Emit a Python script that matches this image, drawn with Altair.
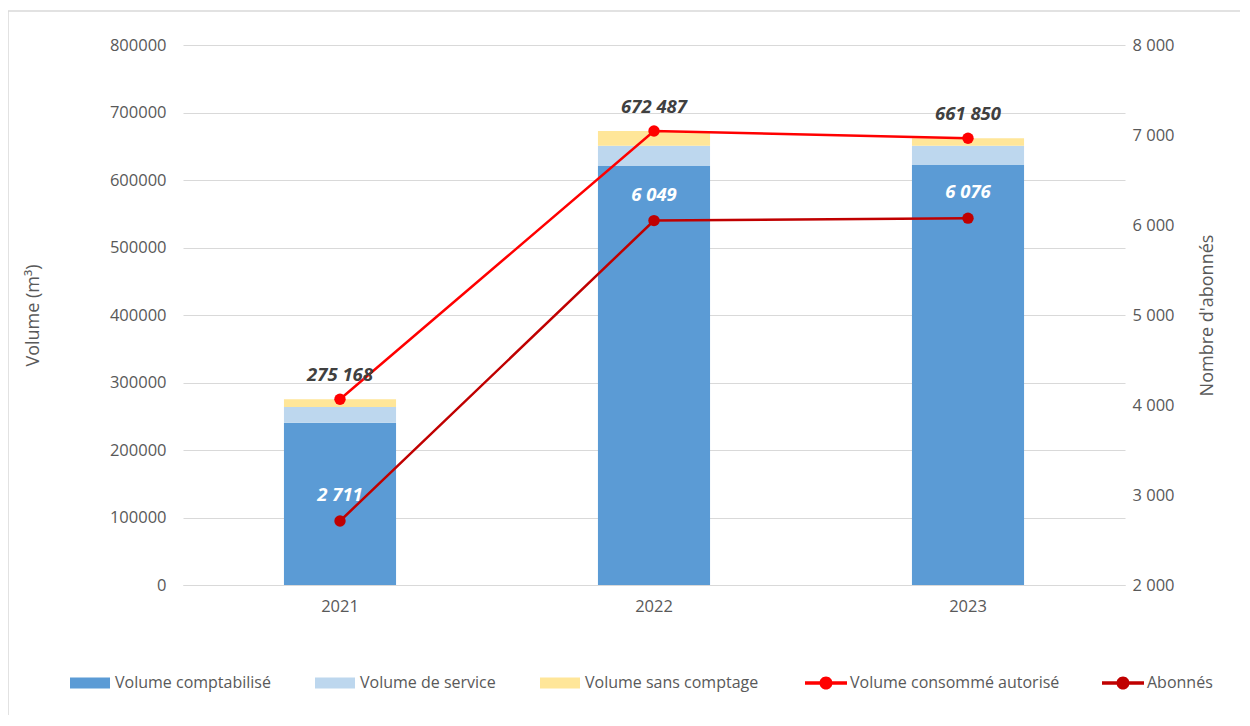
import altair as alt
import pandas as pd

FONT = "Open Sans"

years = ["2021", "2022", "2023"]
bar_series = ["Volume comptabilisé", "Volume de service", "Volume sans comptage"]
bar_colors = ["#5B9BD5", "#BDD7EE", "#FFE699"]
vol_comptabilise = [240400, 620700, 622200]
vol_service = [23300, 30100, 28600]
vol_sans_comptage = [11468, 21687, 11050]

line_series = ["Volume consommé autorisé", "Abonnés"]
line_colors = ["#FF0000", "#C00000"]
vol_consomme = [275168, 672487, 661850]
vol_labels = ["275 168", "672 487", "661 850"]
abonnes = [2711, 6049, 6076]
abo_labels = ["2 711", "6 049", "6 076"]

left_ticks = [0, 100000, 200000, 300000, 400000, 500000, 600000, 700000, 800000]
right_ticks = [2000, 3000, 4000, 5000, 6000, 7000, 8000]

rows = []
for i, y in enumerate(years):
    for j, (s, vals) in enumerate(zip(bar_series, [vol_comptabilise, vol_service, vol_sans_comptage])):
        rows.append({"year": y, "serie": s, "value": vals[i], "order": j})
bars_df = pd.DataFrame(rows)

vol_df = pd.DataFrame({"year": years, "value": vol_consomme, "label": vol_labels,
                       "serie": [line_series[0]] * 3})
abo_df = pd.DataFrame({"year": years, "value": abonnes, "label": abo_labels,
                       "serie": [line_series[1]] * 3})

GRAY_TXT = "#595959"
AX_FS = 16.5
LEG_FS = 16
TITLE_FS = 18
VAL_FS = 18.5

x_enc = alt.X("year:N", scale=alt.Scale(domain=years, paddingInner=0.643, paddingOuter=0.3215),
              axis=alt.Axis(title=None, labelAngle=0, ticks=False, domain=True, domainColor="#D9D9D9",
                            labelFontSize=AX_FS, labelColor=GRAY_TXT, labelPadding=13, grid=False,
                            labelFont=FONT))

left_axis = alt.Axis(values=left_ticks, format="d", title="Volume (m³)", ticks=False, domain=False,
                     grid=True, gridColor="#D9D9D9", gridWidth=1, labelPadding=17, labelFontSize=AX_FS,
                     labelColor=GRAY_TXT, labelFont=FONT, titleFont=FONT, titleFontSize=TITLE_FS,
                     titleColor=GRAY_TXT, titleFontWeight="normal", titleX=-150, titleY=270,
                     titleBaseline="middle", titleAngle=270)
left_scale = alt.Scale(domain=[0, 800000], nice=False)

right_axis = alt.Axis(values=right_ticks, labelExpr="replace(format(datum.value, ','), ',', ' ')",
                      orient="right", grid=False, ticks=False, domain=False, labelPadding=7,
                      labelFontSize=AX_FS, labelColor=GRAY_TXT, labelFont=FONT,
                      title="Nombre d'abonnés", titleFont=FONT, titleFontSize=TITLE_FS, titleColor=GRAY_TXT,
                      titleFontWeight="normal", titleX=82, titleY=270, titleBaseline="middle",
                      titleAngle=270)
right_scale = alt.Scale(domain=[2000, 8000], nice=False)

bar_symbol = "M-1,-0.275H1V0.275H-1Z"
line_symbol = "M-1,-0.085H1V0.085H-1Z M0.31,0A0.31,0.31 0 1,1 -0.31,0A0.31,0.31 0 1,1 0.31,0Z"

bars = alt.Chart(bars_df).mark_bar().encode(
    x=x_enc,
    y=alt.Y("value:Q", stack="zero", scale=left_scale, axis=left_axis),
    color=alt.Color("serie:N", scale=alt.Scale(domain=bar_series, range=bar_colors),
                    legend=alt.Legend(title=None, orient="none", legendX=-113, legendY=618,
                                      direction="horizontal", symbolType=bar_symbol, symbolSize=1600,
                                      symbolStrokeWidth=0, labelFontSize=LEG_FS, labelColor=GRAY_TXT,
                                      labelFont=FONT, labelOffset=5, columnPadding=44, labelLimit=400)),
    order=alt.Order("order:Q"),
)

border = alt.Chart(pd.DataFrame({"a": [0]})).mark_rect(
    fillOpacity=0, stroke="#D9D9D9", strokeWidth=1.5
).encode(x=alt.value(-175), x2=alt.value(3000), y=alt.value(-34), y2=alt.value(3000))

line_fill = alt.Fill("serie:N", scale=alt.Scale(domain=line_series, range=line_colors),
                     legend=alt.Legend(title=None, orient="none", legendX=622, legendY=617,
                                       direction="horizontal", symbolType=line_symbol, symbolSize=1764,
                                       symbolStrokeWidth=0, labelFontSize=LEG_FS, labelColor=GRAY_TXT,
                                       labelFont=FONT, labelOffset=3, columnPadding=42, labelLimit=400))

vol_line = alt.Chart(vol_df).mark_line(color=line_colors[0], strokeWidth=2.5).encode(
    x=x_enc, y=alt.Y("value:Q", scale=left_scale, axis=left_axis))
vol_pts = alt.Chart(vol_df).mark_point(filled=True, size=130, opacity=1).encode(
    x=x_enc, y=alt.Y("value:Q", scale=left_scale, axis=left_axis), fill=line_fill)
vol_txt = alt.Chart(vol_df).mark_text(fontStyle="italic", fontWeight="bold", fontSize=VAL_FS,
                                      color="#404040", dy=-24, font=FONT).encode(
    x=x_enc, y=alt.Y("value:Q", scale=left_scale, axis=left_axis), text="label:N")

left = alt.layer(border, bars, vol_line, vol_pts, vol_txt)

abo_line = alt.Chart(abo_df).mark_line(color=line_colors[1], strokeWidth=2.5).encode(
    x=x_enc, y=alt.Y("value:Q", scale=right_scale, axis=right_axis))
abo_pts = alt.Chart(abo_df).mark_point(filled=True, size=130, opacity=1).encode(
    x=x_enc, y=alt.Y("value:Q", scale=right_scale, axis=right_axis), fill=line_fill)
abo_txt = alt.Chart(abo_df).mark_text(fontStyle="italic", fontWeight="bold", fontSize=VAL_FS,
                                      color="white", dy=-26, font=FONT).encode(
    x=x_enc, y=alt.Y("value:Q", scale=right_scale, axis=right_axis), text="label:N")

right = alt.layer(abo_line, abo_pts, abo_txt)

chart = alt.layer(left, right).resolve_scale(y="independent").properties(
    width=942, height=540,
    autosize=alt.AutoSizeParams(type="none"),
    padding={"left": 175, "top": 37, "right": 115, "bottom": 130},
    background="white",
).configure(font=FONT).configure_view(strokeOpacity=0)

chart.save("out.html", embed_options={"renderer": "svg", "actions": False})
